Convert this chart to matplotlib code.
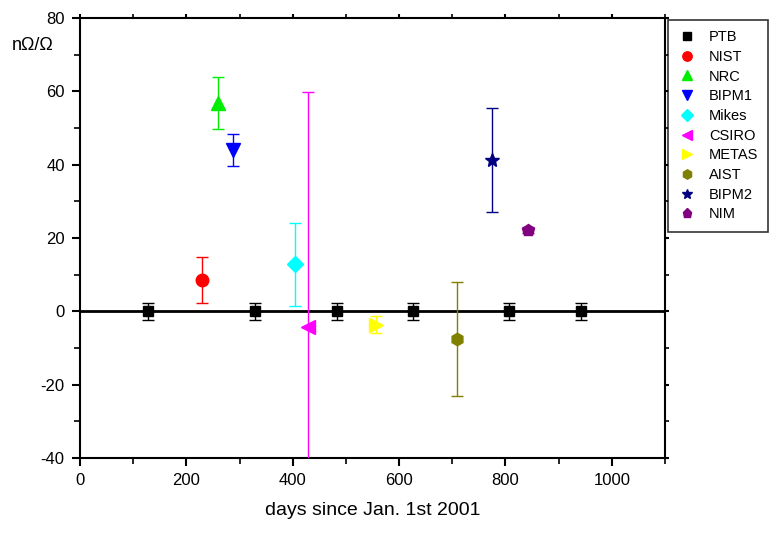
import matplotlib.pyplot as plt
from matplotlib.lines import Line2D
from matplotlib.ticker import MultipleLocator

plt.rcParams['font.family'] = ['Liberation Sans', 'DejaVu Sans']
plt.rcParams['axes.unicode_minus'] = False

# data
ptb_days = [128, 329, 483, 626, 806, 942]
ptb_vals = [0, 0, 0, 0, 0, 0]
ptb_errs = [2.4, 2.4, 2.4, 2.4, 2.4, 2.4]

labels = ['NIST', 'NRC', 'BIPM1', 'Mikes', 'CSIRO', 'METAS', 'AIST', 'BIPM2', 'NIM']
days = [229, 259, 288, 404, 429, 556, 708, 774, 842]
vals = [8.5, 56.8, 44.0, 12.8, -4.2, -3.6, -7.6, 41.2, 22.2]
errs = [6.2, 7.2, 4.4, 11.3, 64.0, 2.4, 15.5, 14.2, 0.8]

colors = ['#ff0000', '#00ee00', '#0000ff', '#00ffff', '#ff00ff', '#ffff00', '#808000', '#000080', '#800080']
markers = ['o', '^', 'v', 'D', '<', '>', 'h', '*', 'p']
msizes = [9, 10, 10, 8, 10, 10, 9, 10, 9]

fig = plt.figure(figsize=(7.73, 5.34), dpi=100)
ax = fig.add_axes([80/773, 1-458/534, 585/773, 440/534])

ax.axhline(0, color='black', lw=2, zorder=1)

ax.errorbar(ptb_days, ptb_vals, yerr=ptb_errs, fmt='s', color='black', ms=7.5,
            ecolor='black', elinewidth=1, capsize=4, capthick=1, zorder=3)
handles = [Line2D([], [], ls='none', marker='s', color='black', ms=6)]

for d, v, e, c, m, s in zip(days, vals, errs, colors, markers, msizes):
    ax.errorbar([d], [v], yerr=[e], fmt=m, color=c, ms=s, mec=c,
                ecolor=c, elinewidth=1, capsize=4, capthick=1, zorder=3)
    handles.append(Line2D([], [], ls='none', marker=m, color=c, mec=c, ms=s * 0.75))

ax.set_xlim(0, 1100)
ax.set_ylim(-40, 80)
ax.xaxis.set_major_locator(MultipleLocator(200))
ax.xaxis.set_minor_locator(MultipleLocator(100))
ax.yaxis.set_major_locator(MultipleLocator(20))
ax.yaxis.set_minor_locator(MultipleLocator(10))
ax.tick_params(which='major', direction='out', length=6, width=1.5, labelsize=12, pad=5)
ax.tick_params(which='minor', direction='out', length=4, width=1.2)
ax.tick_params(which='both', top=True, right=True, labeltop=False, labelright=False)
# the top and right axes only carry short ticks
for t in ax.xaxis.get_major_ticks() + ax.xaxis.get_minor_ticks():
    t.tick2line.set_markersize(3)
for t in ax.yaxis.get_major_ticks() + ax.yaxis.get_minor_ticks():
    t.tick2line.set_markersize(3)
for sp in ax.spines.values():
    sp.set_linewidth(1.5)

ax.set_xlabel('days since Jan. 1st 2001', fontsize=14, labelpad=10)
fig.text(12/773, 1-46/534, 'n\u03a9/\u03a9', fontsize=13, va='center', ha='left')

leg = fig.legend(handles, ['PTB'] + labels, loc='upper left',
                 bbox_to_anchor=(668/773, 1-20/534), frameon=True,
                 fancybox=False, edgecolor='black', fontsize=10.5, handletextpad=0.9,
                 borderaxespad=0, borderpad=0.7, labelspacing=0.39, handlelength=1.2)
leg.get_frame().set_linewidth(1.2)

fig.savefig('out.png', dpi=100)
